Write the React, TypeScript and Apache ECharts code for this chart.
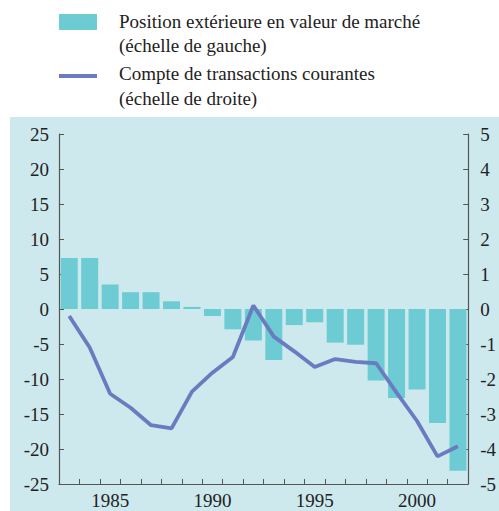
import React, { useEffect, useRef } from "react";
import * as echarts from "echarts";

const years = ["1983","1984","1985","1986","1987","1988","1989","1990","1991","1992","1993","1994","1995","1996","1997","1998","1999","2000","2001","2002"];
const positionValues = [7.3, 7.3, 3.5, 2.4, 2.4, 1.1, 0.3, -1.0, -2.9, -4.5, -7.3, -2.3, -1.9, -4.8, -5.1, -10.2, -12.7, -11.5, -16.3, -23.1];
const currentAccount = [-0.2, -1.1, -2.42, -2.82, -3.32, -3.41, -2.36, -1.82, -1.37, 0.1, -0.79, -1.21, -1.66, -1.43, -1.51, -1.55, -2.39, -3.2, -4.21, -3.92];
const labelledYears = ["1985", "1990", "1995", "2000"];
const legendLines = [
  "Position extérieure en valeur de marché",
  "(échelle de gauche)",
  "Compte de transactions courantes",
  "(échelle de droite)",
];

const FONT = "'Liberation Serif', 'Times New Roman', serif";
const TEXT = "#222";
const AXIS = "#555";
const BAR = "#6ccbd3";
const LINE = "#6a7cc0";
const PANEL = "#cde9ee";

export default function App() {
  const ref = useRef<HTMLDivElement>(null);
  useEffect(() => {
    if (!ref.current) return;
    const chart = echarts.init(ref.current, null, { renderer: "svg" });
    const textStyle = (y: number, t: string) => ({
      type: "text",
      left: 119,
      top: y,
      style: { text: t, font: `19px ${FONT}`, fill: TEXT },
    });
    chart.setOption({
      animation: false,
      backgroundColor: "#ffffff",
      graphic: [
        { type: "rect", shape: { x: 10, y: 117, width: 489, height: 394 }, style: { fill: PANEL }, z: -10 },
        { type: "rect", shape: { x: 59, y: 14, width: 38, height: 16 }, style: { fill: BAR } },
        { type: "line", shape: { x1: 59, y1: 76, x2: 97, y2: 76 }, style: { stroke: LINE, lineWidth: 4 } },
        textStyle(12, legendLines[0]),
        textStyle(36, legendLines[1]),
        textStyle(64, legendLines[2]),
        textStyle(89, legendLines[3]),
      ],
      grid: { left: 59, right: 27, top: 134, bottom: 27 },
      xAxis: {
        type: "category",
        data: years,
        boundaryGap: true,
        axisLine: { onZero: false, lineStyle: { color: AXIS, width: 1.2 } },
        axisTick: { show: true, inside: true, interval: 0, length: 5, lineStyle: { color: AXIS } },
        axisLabel: {
          interval: (_i: number, v: string) => labelledYears.includes(v),
          fontFamily: FONT,
          fontSize: 19,
          color: TEXT,
          margin: 7,
        },
        splitLine: { show: false },
      },
      yAxis: [
        {
          type: "value",
          min: -25,
          max: 25,
          interval: 5,
          position: "left",
          axisLine: { show: true, lineStyle: { color: AXIS, width: 1.2 } },
          axisTick: { show: true, inside: true, length: 5, lineStyle: { color: AXIS } },
          axisLabel: { fontFamily: FONT, fontSize: 19, color: TEXT, margin: 10 },
          splitLine: { show: false },
        },
        {
          type: "value",
          min: -5,
          max: 5,
          interval: 1,
          position: "right",
          axisLine: { show: true, lineStyle: { color: AXIS, width: 1.2 } },
          axisTick: { show: true, inside: true, length: 5, lineStyle: { color: AXIS } },
          axisLabel: { fontFamily: FONT, fontSize: 19, color: TEXT, margin: 12 },
          splitLine: { show: false },
        },
      ],
      series: [
        {
          name: legendLines[0],
          type: "bar",
          data: positionValues,
          yAxisIndex: 0,
          barCategoryGap: "17%",
          itemStyle: { color: BAR },
        },
        {
          name: legendLines[2],
          type: "line",
          data: currentAccount,
          yAxisIndex: 1,
          symbol: "none",
          lineStyle: { color: LINE, width: 3.8 },
          z: 5,
        },
      ],
    });
    return () => chart.dispose();
  }, []);
  return (
    <div
      ref={ref}
      style={{ position: "absolute", left: 0, top: 0, width: 499, height: 511 }}
    />
  );
}
